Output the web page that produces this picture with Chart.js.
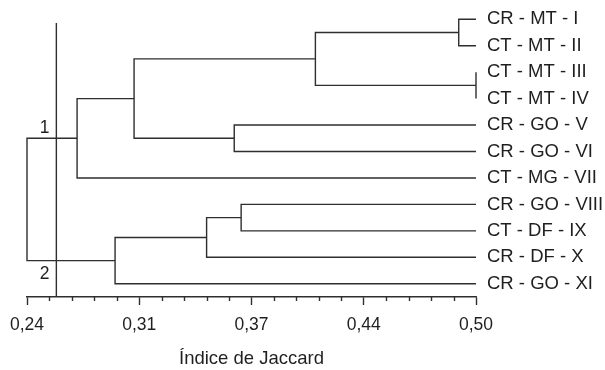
<!DOCTYPE html>
<html>
<head>
<meta charset="utf-8">
<script src="https://cdn.jsdelivr.net/npm/chart.js@4.4.0/dist/chart.umd.min.js"></script>
<style>
html,body{margin:0;padding:0;background:#fff;}
#wrap{width:605px;height:370px;position:relative;}
</style>
</head>
<body>
<div id="wrap"><canvas id="c" width="605" height="370"></canvas></div>
<script>
// Leaves (top to bottom)
const leafLabels = ['CR - MT - I','CT - MT - II','CT - MT - III','CT - MT - IV','CR - GO - V','CR - GO - VI','CT - MG - VII','CR - GO - VIII','CT - DF - IX','CR - DF - X','CR - GO - XI'];
// Merges: children (leaf index as 'L#', merge as 'M#') and Jaccard similarity at join
const mergeLeft  = ['L0','L2','M0','L4','M2','M4','L7','M6','M7','M5'];
const mergeRight = ['L1','L3','M1','L5','M3','L6','L8','L9','L10','M8'];
const mergeHeights = [0.490, 0.500, 0.407, 0.360, 0.302, 0.269, 0.364, 0.344, 0.291, 0.240];
const leafHeight = 0.50;
const cutoff = 0.257;
const clusterLabels = ['1','2'];
const clusterNodes = ['M5','M8'];
// Axis
const xMin = 0.24, xMax = 0.50;
const tickLabels = ['0,24','0,31','0,37','0,44','0,50'];
const minorPerMajor = 5;

const lineColor = '#2e2e2e';
const textColor = '#1f1f1f';
const FONT = '"Liberation Sans", Arial, sans-serif';

function nodeInfo(id){
  const idx = parseInt(id.slice(1));
  if (id[0] === 'L') return {x: leafHeight, y: idx};
  return merged[idx];
}
const merged = [];
const datasets = [];
for (let i = 0; i < mergeHeights.length; i++){
  const a = nodeInfo(mergeLeft[i]), b = nodeInfo(mergeRight[i]);
  const h = mergeHeights[i];
  merged.push({x: h, y: (a.y + b.y) / 2});
  datasets.push({
    data: [{x:a.x,y:a.y},{x:h,y:a.y},{x:h,y:b.y},{x:b.x,y:b.y}],
    showLine: true, borderColor: lineColor, borderWidth: 1.4,
    pointRadius: 0, fill: false, clip: false, tension: 0
  });
}
datasets.push({
  data: [{x:cutoff,y:0.14},{x:cutoff,y:10.5}],
  showLine: true, borderColor: lineColor, borderWidth: 1.4,
  pointRadius: 0, fill: false, clip: false
});

const nTicks = (tickLabels.length - 1) * minorPerMajor + 1;

const extras = {
  id: 'extras',
  afterDatasetsDraw(chart){
    const {ctx, scales:{x, y}, chartArea} = chart;
    ctx.save();
    // minor ticks
    ctx.strokeStyle = lineColor; ctx.lineWidth = 1.4;
    for (let i = 0; i < nTicks; i++){
      if (i % minorPerMajor === 0) continue;
      const v = xMin + (xMax - xMin) * i / (nTicks - 1);
      const px = Math.round(x.getPixelForValue(v)) + 0.5;
      ctx.beginPath();
      ctx.moveTo(px, chartArea.bottom);
      ctx.lineTo(px, chartArea.bottom + 4);
      ctx.stroke();
    }
    // cluster labels
    ctx.fillStyle = textColor;
    ctx.font = '17.5px ' + FONT;
    ctx.textAlign = 'right';
    ctx.textBaseline = 'alphabetic';
    const cx = x.getPixelForValue(cutoff) - 7;
    clusterNodes.forEach((id, k) => {
      const n = nodeInfo(id);
      const py = y.getPixelForValue(n.y);
      ctx.fillText(clusterLabels[k], cx, k === 0 ? py - 5 : py + 18);
    });
    ctx.restore();
  }
};

new Chart(document.getElementById('c'), {
  type: 'scatter',
  data: { datasets },
  options: {
    responsive: false, animation: false, devicePixelRatio: 1,
    layout: { padding: { left: 27, top: 6, right: 0, bottom: 0 } },
    plugins: { legend: {display:false}, tooltip: {enabled:false} },
    scales: {
      x: {
        type: 'linear', min: xMin, max: xMax, position: 'bottom',
        afterBuildTicks(scale){
          const t = [];
          for (let i = 0; i < nTicks; i++) t.push({value: xMin + (xMax - xMin) * i / (nTicks - 1)});
          scale.ticks = t;
        },
        ticks: {
          autoSkip: false, maxRotation: 0, padding: 10, color: textColor,
          font: {family: FONT, size: 17.5},
          callback(v, i){ return i % minorPerMajor === 0 ? tickLabels[i / minorPerMajor] : ''; }
        },
        grid: {
          drawOnChartArea: false, drawTicks: true, tickLength: 8, tickWidth: 1.4,
          tickColor: (c) => (c.index % minorPerMajor === 0 ? lineColor : 'rgba(0,0,0,0)')
        },
        border: { display: true, color: lineColor, width: 1.4 },
        title: {
          display: true, text: 'Índice de Jaccard', color: textColor,
          font: {family: FONT, size: 18.5},
          padding: {top: 0, bottom: 0}
        },
        afterFit(scale){ scale.height = 73; scale.paddingLeft = 0; scale.paddingRight = 0; }
      },
      y: {
        type: 'linear', min: -0.5, max: leafLabels.length - 0.5, reverse: true, position: 'right',
        afterBuildTicks(scale){ scale.ticks = leafLabels.map((_, i) => ({value: i})); },
        ticks: {
          autoSkip: false, padding: 11, color: textColor, crossAlign: 'near',
          font: {family: FONT, size: 18.5},
          callback(v){ return leafLabels[v]; }
        },
        grid: { display: false, drawTicks: false },
        border: { display: false },
        afterFit(scale){ scale.width = 129; scale.paddingTop = 0; scale.paddingBottom = 0; }
      }
    }
  },
  plugins: [extras]
});
</script>
</body>
</html>
